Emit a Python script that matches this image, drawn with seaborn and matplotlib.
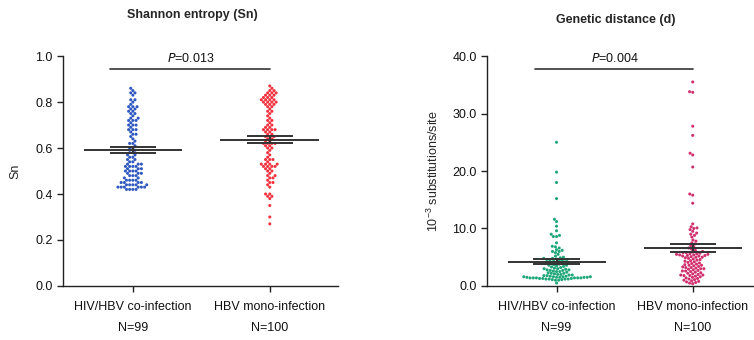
import numpy as np
import pandas as pd
import seaborn as sns
import matplotlib.pyplot as plt

groups = ["HIV/HBV co-infection", "HBV mono-infection"]
group_n = ["N=99", "N=100"]

sn_coinf = [
    0.86, 0.85, 0.84, 0.84, 0.83, 0.81, 0.81,
    0.79, 0.78, 0.78, 0.77, 0.77, 0.76, 0.76, 0.75,
    0.74, 0.73, 0.73, 0.72, 0.72, 0.71, 0.70, 0.70,
    0.69, 0.68, 0.68, 0.67, 0.66, 0.65, 0.64, 0.63,
    0.62, 0.61, 0.60, 0.59, 0.58, 0.58, 0.57, 0.57,
    0.56, 0.55, 0.55, 0.54, 0.53, 0.53, 0.53, 0.52, 0.52, 0.52,
    0.51, 0.51, 0.51, 0.50, 0.50, 0.50, 0.50, 0.49, 0.49, 0.49,
    0.48, 0.48, 0.48, 0.47, 0.47, 0.46, 0.46, 0.46, 0.46,
    0.45, 0.45, 0.45, 0.45, 0.44, 0.44, 0.44, 0.44, 0.44,
    0.43, 0.43, 0.43, 0.43, 0.43, 0.43, 0.42, 0.42, 0.42, 0.42,
    0.80, 0.78, 0.75, 0.72, 0.70, 0.68, 0.66, 0.62, 0.60, 0.56, 0.54, 0.52,
]
sn_mono = [
    0.87, 0.86, 0.85, 0.84, 0.84, 0.84, 0.83, 0.83, 0.82, 0.82, 0.82,
    0.81, 0.81, 0.81, 0.80, 0.80, 0.80, 0.80, 0.79, 0.79, 0.78, 0.78, 0.77,
    0.76, 0.75, 0.74, 0.73, 0.72, 0.71, 0.70, 0.70,
    0.69, 0.69, 0.68, 0.68, 0.68, 0.67, 0.67, 0.66, 0.66, 0.65, 0.65, 0.64, 0.64,
    0.63, 0.63, 0.62, 0.62, 0.62, 0.61, 0.61, 0.60, 0.60, 0.59, 0.58, 0.57,
    0.56, 0.55, 0.55, 0.54, 0.53, 0.53, 0.53, 0.53, 0.52, 0.52, 0.52, 0.52, 0.51, 0.51,
    0.50, 0.49, 0.48, 0.47, 0.47, 0.46, 0.45, 0.45, 0.44, 0.43,
    0.40, 0.40, 0.39, 0.39, 0.38, 0.35, 0.30, 0.27,
    0.85, 0.83, 0.81, 0.79, 0.76, 0.72, 0.68, 0.65, 0.62, 0.55, 0.50, 0.48,
]
d_coinf = [
    25.0, 19.8, 18.0, 15.2, 11.6, 11.2, 10.4, 9.6, 9.0, 8.8, 8.6, 8.6,
    7.5, 6.9, 6.8, 6.6, 6.3, 6.2, 6.0, 6.0, 5.8,
    5.5, 5.2, 5.0, 4.9, 4.8, 4.8, 4.7, 4.6, 4.6, 4.5, 4.5, 4.4, 4.3, 4.2, 4.1,
    4.0, 4.0, 3.9, 3.9, 3.8, 3.7, 3.6, 3.6, 3.5, 3.4, 3.3,
    3.2, 3.1, 3.0, 3.0, 2.9, 2.8, 2.8, 2.7, 2.7, 2.6, 2.5, 2.5, 2.4, 2.3,
    2.2, 2.2, 2.1, 2.0, 2.0, 1.9, 1.9, 1.8, 1.8,
    1.7, 1.7, 1.6, 1.6, 1.6, 1.6, 1.5, 1.5, 1.5, 1.5, 1.5,
    1.4, 1.4, 1.4, 1.4, 1.4, 1.4, 1.3, 1.3, 1.3,
    1.2, 1.2, 1.2, 1.2, 1.1, 1.1, 1.0, 1.0, 0.5,
]
d_mono = [
    35.5, 33.8, 33.7, 27.8, 26.2, 23.1, 22.8, 20.7, 16.0, 15.8, 14.4,
    10.8, 10.3, 10.1, 10.0, 9.8, 9.5, 9.2, 9.0, 8.8, 8.5, 8.0, 7.8, 7.5, 7.3, 7.0,
    6.8, 6.6, 6.4, 6.2, 6.0, 5.8, 5.6, 5.5, 5.3, 5.2,
    5.0, 4.9, 4.8, 4.6, 4.5, 4.4, 4.3, 4.2, 4.0, 3.9,
    3.8, 3.7, 3.6, 3.5, 3.4, 3.3, 3.2, 3.1, 3.0, 3.0,
    2.9, 5.9, 2.8, 5.8, 2.7, 5.7, 2.6, 5.6, 2.5, 5.5,
    2.4, 5.4, 2.3, 5.3, 2.2, 5.2, 2.1, 5.1, 2.0, 5.0,
    1.9, 1.9, 1.8, 1.8, 1.7, 1.6, 1.5, 1.4, 1.3, 1.2,
    1.1, 1.0, 0.9, 0.8, 0.7, 0.6, 0.5, 0.4,
    5.4, 4.7, 4.1, 3.6, 3.2, 2.6,
]

sn_colors = ["#3059c0", "#f2333f"]
d_colors = ["#1fa77a", "#d1306f"]

sns.set_style("ticks")
plt.rcParams["font.family"] = ["Liberation Sans", "DejaVu Sans"]
plt.rcParams["font.size"] = 9

ink = "#222222"
fs = 9


def make_df(a, b):
    return pd.DataFrame({
        "group": [groups[0]] * len(a) + [groups[1]] * len(b),
        "value": list(a) + list(b),
    })


def mean_sem(ax, data):
    for i, vals in enumerate(data):
        v = np.array(vals)
        m = v.mean()
        s = v.std(ddof=1) / np.sqrt(len(v))
        ax.hlines(m, i - 0.36, i + 0.36, color="#333333", lw=1.4, zorder=5)
        ax.hlines([m - s, m + s], i - 0.17, i + 0.17, color="#333333", lw=1.4, zorder=5)
        ax.vlines(i, m - s, m + s, color="#333333", lw=1.4, zorder=5)


def style_axis(ax, ylim, ticks, fmt, xmax):
    ax.set_ylim(*ylim)
    ax.set_xlim(-0.51, xmax)
    ax.set_yticks(ticks)
    ax.set_yticklabels([fmt.format(t) for t in ticks])
    ax.set_xticks([0, 1])
    ax.set_xticklabels([g + "\n" + n for g, n in zip(groups, group_n)],
                       linespacing=2.1)
    ax.set_xlabel("")
    sns.despine(ax=ax)
    for sp in ["left", "bottom"]:
        ax.spines[sp].set_color(ink)
        ax.spines[sp].set_linewidth(1.0)
    ax.tick_params(axis="both", colors=ink, labelcolor="#111111",
                   length=4.5, width=1.0, labelsize=fs)
    ax.tick_params(axis="x", pad=6)
    ax.tick_params(axis="y", pad=3)


fig = plt.figure(figsize=(7.54, 3.4), dpi=100)
ax1 = fig.add_axes([0.0836, 0.159, 0.365, 0.676])
ax2 = fig.add_axes([0.646, 0.159, 0.354, 0.676])

sns.swarmplot(data=make_df(sn_coinf, sn_mono), x="group", y="value",
              hue="group", palette=sn_colors, size=2.2, linewidth=0,
              legend=False, ax=ax1)
mean_sem(ax1, [sn_coinf, sn_mono])
style_axis(ax1, (0, 1.0), np.arange(0, 1.01, 0.2), "{:.1f}", 1.5)
ax1.set_ylabel("Sn", fontsize=fs, labelpad=10)
ax1.plot([-0.17, 1.0], [0.945, 0.945], color="#333333", lw=1.2, clip_on=False)
ax1.text(0.42, 0.962, "$\\mathit{P}$=0.013", ha="center", va="bottom",
         fontsize=fs, color="#111111")

sns.swarmplot(data=make_df(d_coinf, d_mono), x="group", y="value",
              hue="group", palette=d_colors, size=2.2, linewidth=0,
              legend=False, ax=ax2)
mean_sem(ax2, [d_coinf, d_mono])
style_axis(ax2, (0, 40), np.arange(0, 40.1, 10), "{:.1f}", 1.45)
ax2.set_ylabel("10$^{\\mathregular{-3}}$ substitutions/site", fontsize=fs,
               labelpad=8)
ax2.plot([-0.16, 1.0], [37.7, 37.7], color="#333333", lw=1.2, clip_on=False)
ax2.text(0.43, 38.5, "$\\mathit{P}$=0.004", ha="center", va="bottom",
         fontsize=fs, color="#111111")

fig.text(192 / 754, 1 - 15 / 340, "Shannon entropy (Sn)", ha="center",
         va="center", fontsize=fs, fontweight="bold")
fig.text(616 / 754, 1 - 20 / 340, "Genetic distance (d)", ha="center",
         va="center", fontsize=fs, fontweight="bold")

fig.savefig("out.png", dpi=100)
